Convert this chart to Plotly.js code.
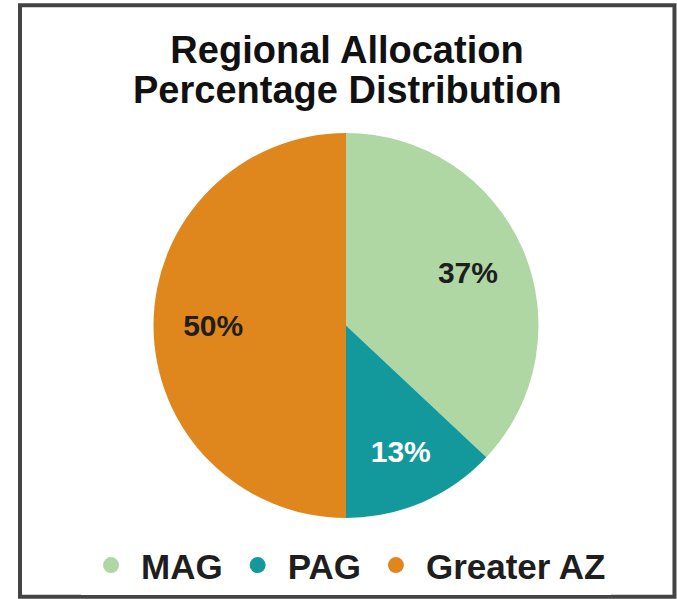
<!DOCTYPE html>
<html>
<head>
<meta charset="utf-8">
<script src="https://cdn.plot.ly/plotly-3.0.1.min.js"></script>
<style>
html,body{margin:0;padding:0;background:#fff;}
#chart{width:677px;height:599px;}
</style>
</head>
<body>
<div id="chart"></div>
<script>
var categories = ["MAG", "PAG", "Greater AZ"];
var values = [37, 13, 50];
var sliceColors = ["#afd7a3", "#13999b", "#df861c"];
var labelColors = ["#1e1e1e", "#ffffff", "#1e1e1e"];
var titleLine1 = "Regional Allocation";
var titleLine2 = "Percentage Distribution";

var FONT = "'Liberation Sans', Arial, sans-serif";
var DOMAIN = {x: [0, 1], y: [0, 1]};

var traces = [{
  type: "pie",
  labels: categories,
  values: values,
  sort: false,
  direction: "clockwise",
  rotation: 0,
  domain: DOMAIN,
  marker: {colors: sliceColors, line: {width: 0}},
  textinfo: "none",
  showlegend: false,
  hoverinfo: "label+percent"
}, {
  // transparent ring carrying the percentage labels at ~0.69 of the radius
  type: "pie",
  labels: categories,
  values: values,
  sort: false,
  direction: "clockwise",
  rotation: 0,
  domain: DOMAIN,
  hole: 0.38,
  marker: {colors: ["rgba(0,0,0,0)", "rgba(0,0,0,0)", "rgba(0,0,0,0)"], line: {width: 0}},
  textinfo: "percent",
  texttemplate: "<b>%{percent:.0%}</b>",
  textposition: "inside",
  insidetextorientation: "horizontal",
  insidetextfont: {family: FONT, size: 30, color: labelColors},
  showlegend: false,
  hoverinfo: "skip"
}];

categories.forEach(function (c, i) {
  traces.push({
    type: "scatter",
    mode: "markers",
    x: [null],
    y: [null],
    name: "<b>" + c + "</b>",
    marker: {color: sliceColors[i], size: 22, symbol: "circle"},
    showlegend: true,
    hoverinfo: "skip"
  });
});

var layout = {
  width: 677,
  height: 599,
  margin: {l: 20, r: 5, t: 133, b: 80},
  paper_bgcolor: "#ffffff",
  plot_bgcolor: "rgba(0,0,0,0)",
  title: {
    text: "<b>" + titleLine1 + "</b>",
    font: {family: FONT, size: 38, color: "#111111"},
    x: 347 / 677,
    xanchor: "center",
    xref: "container",
    yref: "container",
    y: 1 - 50 / 599,
    yanchor: "middle"
  },
  annotations: [{
    text: "<b>" + titleLine2 + "</b>",
    font: {family: FONT, size: 38, color: "#111111"},
    xref: "paper",
    yref: "paper",
    x: (347 - 20) / 652,
    xanchor: "center",
    y: (519 - 90) / 386,
    yanchor: "middle",
    showarrow: false
  }],
  xaxis: {visible: false},
  yaxis: {visible: false},
  showlegend: true,
  legend: {
    orientation: "h",
    x: (346 - 20) / 652,
    xanchor: "center",
    y: -0.12,
    yanchor: "middle",
    itemwidth: 50,
    font: {family: FONT, size: 35, color: "#1e1e1e"},
    itemclick: false,
    itemdoubleclick: false
  },
  shapes: [{
    type: "rect",
    xref: "paper",
    yref: "paper",
    x0: 0,
    x1: 1.0038,
    y0: -0.2047,
    y1: 1.3316,
    line: {color: "#444444", width: 4},
    fillcolor: "rgba(0,0,0,0)",
    layer: "above"
  }]
};

Plotly.newPlot("chart", traces, layout, {displayModeBar: false, responsive: false});
</script>
</body>
</html>
